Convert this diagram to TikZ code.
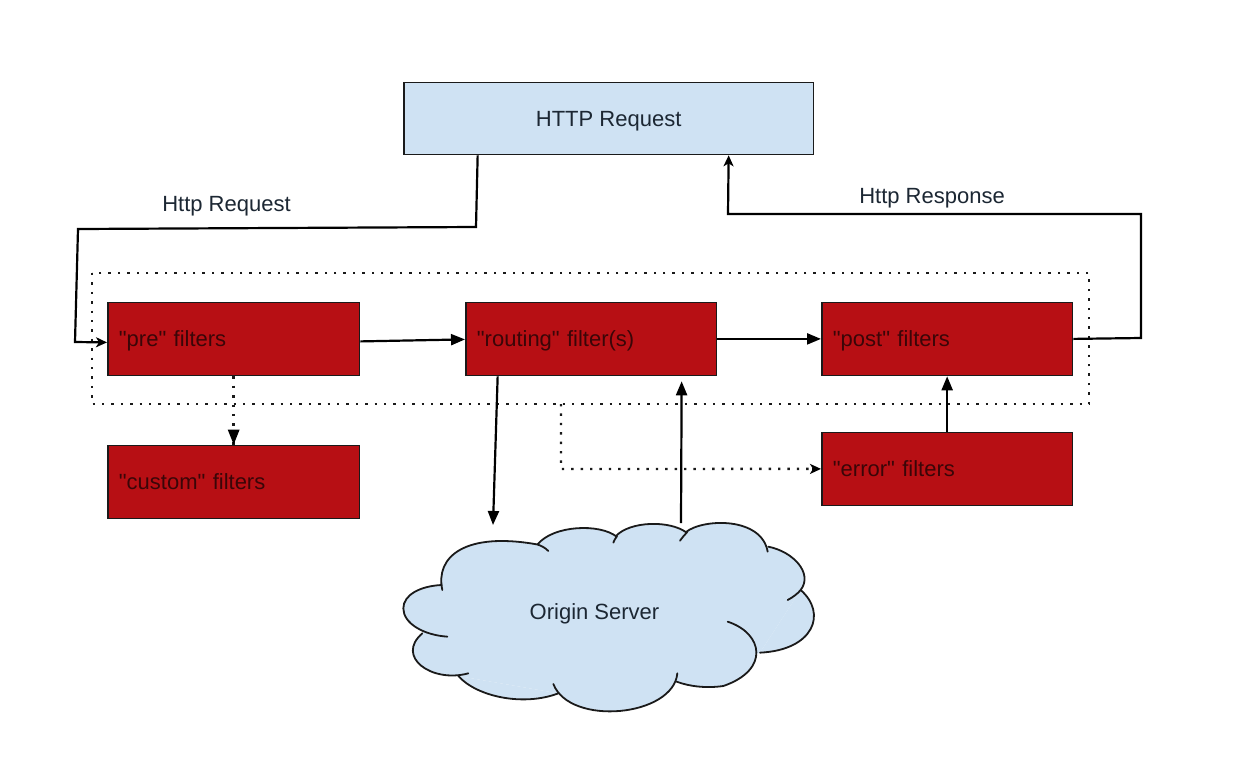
\documentclass[tikz,border=0pt]{standalone}
\usepackage{fontspec}
\newfontfamily\plainsans{Liberation Sans}
\usetikzlibrary{arrows.meta}
\definecolor{boxblue}{HTML}{CFE2F3}
\definecolor{boxred}{HTML}{B70F14}
\definecolor{inkdark}{HTML}{1A1A1A}
\definecolor{labeldark}{HTML}{1C2733}
\definecolor{redtext}{HTML}{3A0608}
\newcommand\lobefill[1]{\fill[boxblue] #1 -- cycle;}
\newcommand\lobestroke[1]{\draw[inkdark,line width=1.8pt,line cap=round] #1;}
\newcommand\alllobes[1]{%
#1{(157,240) .. controls (135,140) and (225,65) .. (440,103) .. controls (455,107) and (465,113) .. (475,123)}%
#1{(443,103) .. controls (490,45) and (630,40) .. (680,80) .. controls (676,85) and (672,92) .. (670,98)}%
#1{(678,78) .. controls (720,33) and (840,30) .. (890,68) .. controls (882,76) and (876,84) .. (870,92)}%
#1{(888,66) .. controls (940,25) and (1115,20) .. (1133,125)}%
#1{(1135,110) .. controls (1210,125) and (1270,190) .. (1232,240) .. controls (1222,252) and (1208,262) .. (1193,270)}%
#1{(1232,240) .. controls (1312,310) and (1272,420) .. (1110,428)}%
#1{(1013,335) .. controls (1120,370) and (1140,480) .. (1000,528) .. controls (950,535) and (900,530) .. (860,515)}%
#1{(862,490) .. controls (850,620) and (540,650) .. (490,522)}%
#1{(505,550) .. controls (400,590) and (260,560) .. (205,498)}%
#1{(235,490) .. controls (125,520) and (15,440) .. (97,370)}%
#1{(172,380) .. controls (100,375) and (40,340) .. (40,295) .. controls (40,255) and (90,228) .. (155,225)}%
}
\tikzset{
  boxbase/.style={draw=inkdark,line width=1.8pt,anchor=north west,inner sep=0pt,
    font=\plainsans\fontsize{22}{26}\selectfont,text height=21pt,text depth=5pt},
  redbox/.style={boxbase,fill=boxred,text=redtext,minimum height=73pt,align=left},
  link/.style={draw=black,line width=2.2pt,-{Triangle[length=14pt,width=11pt]}},
  thinlink/.style={draw=black,line width=2.2pt,-{Stealth[length=11pt,width=10pt,inset=3pt]}},
  dotlink/.style={draw=inkdark,line width=2.4pt,dash pattern=on 2.4pt off 7pt},
  caption/.style={text=labeldark,font=\plainsans\fontsize{22}{26}\selectfont,inner sep=0pt}
}
\begin{document}
\begin{tikzpicture}[x=1pt,y=-1pt]
\useasboundingbox (0,0) rectangle (1236,774);
\fill[white] (0,0) rectangle (1236,774);

% dotted frame
\draw[dotlink] (92,273) rectangle (1089,404);

% boxes
\node[boxbase,fill=boxblue,text=labeldark,minimum width=409.5pt,minimum height=72pt] (http) at (403,81.5) {HTTP Request};
\node[redbox,minimum width=251.5pt,text width=229.5pt] (pre) at (107,301.5) {"pre" filters};
\node[redbox,minimum width=250.5pt,text width=228.5pt] (routing) at (465,301.5) {"routing" filter(s)};
\node[redbox,minimum width=250.5pt,text width=228.5pt] (post) at (821,301.5) {"post" filters};
\node[redbox,minimum width=251.5pt,text width=229.5pt] (custom) at (107,444.5) {"custom" filters};
\node[redbox,minimum width=250.5pt,text width=228.5pt] (error) at (821,431.5) {"error" filters};

% cloud
\begin{scope}[x=0.33333pt,y=-0.33333pt,shift={(390pt,-510pt)}]
  \alllobes\lobefill
  \fill[boxblue] (157,240) -- (443,103) -- (678,78) -- (888,66) -- (1133,110) -- (1232,240)
     -- (1110,428) -- (862,515) -- (505,550) -- (205,498) -- (97,370) -- cycle;
  \alllobes\lobestroke
\end{scope}
\node[caption] (origin) at (594.5,613.5) {Origin Server};
\coordinate (cloudin) at (493,525);
\coordinate (cloudout) at (681,523);

% edge labels
\node[caption] (reqlabel) at (226.5,206.5) {Http Request};
\node[caption] (resplabel) at (932,198.5) {Http Response};

% connectors
\coordinate (reqa) at (476,227);
\coordinate (reqb) at (78,229);
\coordinate (reqc) at (75,342);
\draw[thinlink] ([xshift=-131pt]http.south) -- (reqa) -- (reqb) -- (reqc) -- ([yshift=-3.5pt]pre.west);
\coordinate (respa) at (1141,338);
\coordinate (respb) at (1141,214);
\coordinate (respc) at (728,214);
\draw[thinlink] (post.east) -- (respa) -- (respb) -- (respc) -- ([xshift=120pt]http.south);
\draw[link] ([yshift=-2.5pt]pre.east) -- ([yshift=-.5pt]routing.west);
\draw[link] (routing.east) -- (post.west);
\draw[link] ([xshift=-93.5pt]routing.south) -- (cloudin);
\draw[link] (cloudout) -- ([xshift=90.5pt,yshift=-5pt]routing.south);
\draw[link] (error.north) -- (post.south);
\draw[dotlink] (pre.south) -- (custom.north);
\fill[black] (custom.north) -- ++(-6,-15) -- ++(12,0) -- cycle;
\coordinate (erra) at (561,404);
\coordinate (errb) at (561,469);
\draw[dotlink] (erra) -- (errb) -- ([xshift=-8pt]error.west);
\draw[line width=2.2pt,-{Stealth[length=11pt,width=10pt,inset=3pt]}] ([xshift=-9pt]error.west) -- (error.west);
\end{tikzpicture}
\end{document}
